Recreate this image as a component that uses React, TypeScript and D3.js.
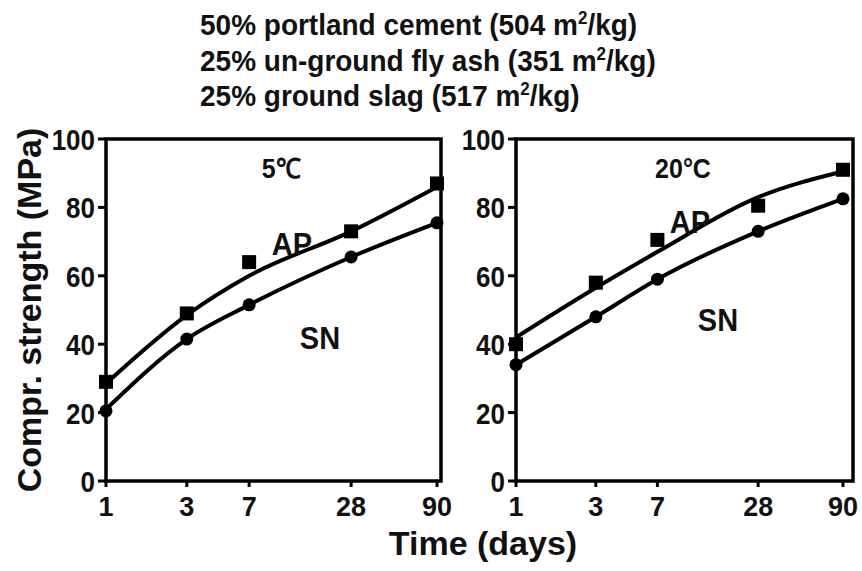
import { useEffect, useRef } from "react";
import * as d3 from "d3";

// curing ages (days)
const days = [1, 3, 7, 28, 90];
const xTicks = [1, 3, 7, 28, 90];
const yTicks = [0, 20, 40, 60, 80, 100];

// 5 C panel: measured points and fitted curves
const ap5 = [29, 49, 64, 73, 87];
const sn5 = [20.5, 41.5, 51.5, 65.5, 75.5];
const apFit5 = [28.5, 48.5, 60, 73, 86];
const snFit5 = [21, 41.5, 51.5, 65.5, 75.5];

// 20 C panel
const ap20 = [40, 58, 70.5, 80.5, 91];
const sn20 = [34, 48, 59, 73, 82.5];
const apFit20 = [42, 56.5, 67, 83, 90.5];
const snFit20 = [34, 48, 59, 73, 82.5];

const titleLines = [
  ["50% portland cement (504 m", "/kg)"],
  ["25% un-ground fly ash (351 m", "/kg)"],
  ["25% ground slag (517 m", "/kg)"],
];

const FONT = "'Liberation Sans', Arial, sans-serif";

export default function App() {
  const ref = useRef<SVGSVGElement>(null);

  useEffect(() => {
    const svg = d3.select(ref.current);
    svg.selectAll("*").remove();

    const width = 862;
    const height = 571;
    svg.append("rect").attr("width", width).attr("height", height).attr("fill", "#fff");

    // title
    titleLines.forEach((parts, i) => {
      const t = svg
        .append("text")
        .attr("transform", `translate(200,${35 + i * 35.5}) scale(1,1.08)`)
        .attr("font-family", FONT)
        .attr("font-weight", "bold")
        .attr("font-size", 28)
        .attr("fill", "#111");
      t.append("tspan").text(parts[0]);
      t.append("tspan").attr("font-size", 17).attr("dy", -10).text("2");
      t.append("tspan").attr("dy", 10).text(parts[1]);
    });

    const panels = [
      { left: 106, x90: 437, right: 441, label: "5℃", lx: 281, ap: ap5, sn: sn5, apFit: apFit5, snFit: snFit5,
        apPos: [292, 255], snPos: [320, 349] },
      { left: 516, x90: 843, right: 853, label: "20°C", lx: 683, ap: ap20, sn: sn20, apFit: apFit20, snFit: snFit20,
        apPos: [690, 233], snPos: [718, 331] },
    ];

    const top = 139;
    const bottom = 481;

    const y = d3.scaleLinear().domain([0, 100]).range([bottom, top]);

    panels.forEach((p) => {
      const x = d3.scaleLog().domain([1, 90]).range([p.left, p.x90]);
      const g = svg.append("g");

      // frame
      g.append("rect")
        .attr("x", p.left)
        .attr("y", top)
        .attr("width", p.right - p.left)
        .attr("height", bottom - top)
        .attr("fill", "none")
        .attr("stroke", "#000")
        .attr("stroke-width", 3.5);

      // y axis
      yTicks.forEach((v) => {
        g.append("line")
          .attr("x1", p.left - 8)
          .attr("x2", p.left)
          .attr("y1", y(v))
          .attr("y2", y(v))
          .attr("stroke", "#000")
          .attr("stroke-width", 3);
        g.append("text")
          .attr("transform", `translate(${p.left - 11},${y(v) + 11}) scale(1,1.15)`)
          .attr("text-anchor", "end")
          .attr("font-family", FONT)
          .attr("font-weight", "bold")
          .attr("font-size", 26)
          .attr("fill", "#111")
          .text(v);
      });

      // x axis
      xTicks.forEach((v) => {
        g.append("line")
          .attr("x1", x(v))
          .attr("x2", x(v))
          .attr("y1", bottom)
          .attr("y2", bottom + 6)
          .attr("stroke", "#000")
          .attr("stroke-width", 3);
        g.append("text")
          .attr("transform", `translate(${x(v)},516) scale(1,1.05)`)
          .attr("text-anchor", "middle")
          .attr("font-family", FONT)
          .attr("font-weight", "bold")
          .attr("font-size", 27)
          .attr("fill", "#111")
          .text(v);
      });

      const line = d3
        .line<number>()
        .x((_, i) => x(days[i]))
        .y((d) => y(d))
        .curve(d3.curveMonotoneX);

      [p.apFit, p.snFit].forEach((fit) => {
        g.append("path")
          .datum(fit)
          .attr("fill", "none")
          .attr("stroke", "#000")
          .attr("stroke-width", 4)
          .attr("d", line);
      });

      g.selectAll(".sq")
        .data(p.ap)
        .join("rect")
        .attr("x", (_, i) => x(days[i]) - 7)
        .attr("y", (d) => y(d) - 7)
        .attr("width", 14)
        .attr("height", 14)
        .attr("fill", "#000");

      g.selectAll(".ci")
        .data(p.sn)
        .join("circle")
        .attr("cx", (_, i) => x(days[i]))
        .attr("cy", (d) => y(d))
        .attr("r", 6.5)
        .attr("fill", "#000");

      const lbl = (txt: string, px: number, py: number, size: number) =>
        g.append("text")
          .attr("transform", `translate(${px},${py}) scale(1,1.1)`)
          .attr("text-anchor", "middle")
          .attr("font-family", FONT)
          .attr("font-weight", "bold")
          .attr("font-size", size)
          .attr("fill", "#111")
          .text(txt);

      lbl(p.label, p.lx, 178, 25);
      lbl("AP", p.apPos[0], p.apPos[1], 29);
      lbl("SN", p.snPos[0], p.snPos[1], 29);
    });

    // axis titles
    svg.append("text")
      .attr("transform", "translate(41,310) rotate(-90)")
      .attr("text-anchor", "middle")
      .attr("font-family", FONT)
      .attr("font-weight", "bold")
      .attr("font-size", 34)
      .attr("fill", "#111")
      .text("Compr. strength (MPa)");

    svg.append("text")
      .attr("x", 483)
      .attr("y", 555)
      .attr("text-anchor", "middle")
      .attr("font-family", FONT)
      .attr("font-weight", "bold")
      .attr("font-size", 34)
      .attr("fill", "#111")
      .text("Time (days)");
  }, []);

  return (
    <svg
      ref={ref}
      width="862"
      height="571"
      style={{ position: "absolute", left: 0, top: 0 }}
    ></svg>
  );
}
